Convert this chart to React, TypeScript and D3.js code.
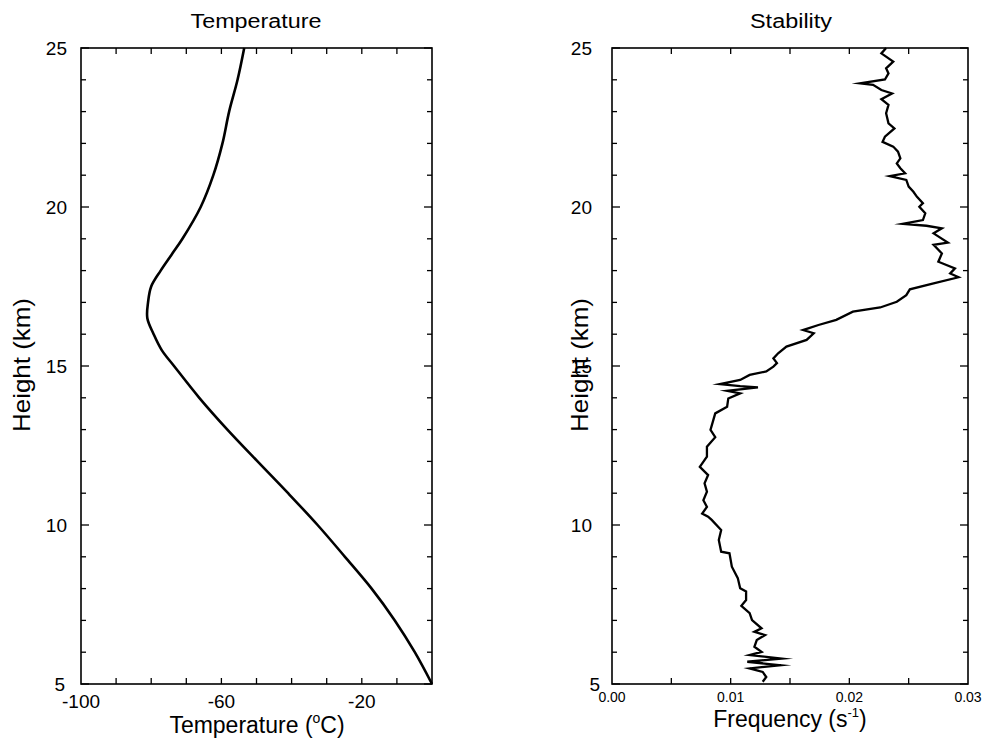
import React from 'react';
import * as d3 from 'd3';

// ---------- data ----------
const tempHeights = [5, 6, 7, 8, 9, 10, 11, 12, 13, 14, 15, 15.5, 16, 16.5, 17, 17.5, 18, 18.5, 19, 20, 21, 22, 23, 24, 25];
const tempValues = [0, -4.9, -10.6, -17.2, -24.8, -32.6, -41.0, -49.7, -58.3, -66.3, -73.5, -77.0, -79.3, -81.1, -80.9, -80.0, -77.3, -74.2, -71.1, -65.9, -62.3, -59.7, -57.8, -55.4, -53.5];

const stabHeights = [
  25.0, 24.83, 24.57, 24.36, 24.2, 24.01, 23.89, 23.84, 23.68, 23.57, 23.39, 23.21, 22.95, 22.63, 22.47, 22.21, 22.05, 21.9,
  21.74, 21.53, 21.37, 21.22, 21.06, 20.97, 20.85, 20.64, 20.48, 20.32, 20.12, 20.01, 19.8, 19.59, 19.47, 19.41, 19.33, 19.17,
  18.88, 18.81, 18.54, 18.28, 18.07, 17.91, 17.79, 17.6, 17.41, 17.23, 17.02, 16.84, 16.71, 16.45, 16.29, 16.13, 16.03, 15.82,
  15.61, 15.4, 15.24, 15.09, 14.98, 14.83, 14.72, 14.56, 14.43, 14.37, 14.33, 14.22, 14.14, 13.98, 13.72, 13.51, 13.25, 12.99,
  12.76, 12.46, 12.15, 11.83, 11.57, 11.31, 11.05, 10.78, 10.57, 10.36, 10.26, 10.16, 9.84, 9.53, 9.16, 9.11, 8.69, 8.33,
  8.01, 7.91, 7.64, 7.46, 7.23, 7.01, 6.75, 6.64, 6.54, 6.38, 6.17, 6.01, 5.91, 5.8, 5.7, 5.59, 5.49, 5.38, 5.22, 5.07,
];
const stabFreqs = [
  0.0231, 0.0227, 0.0237, 0.0231, 0.0233, 0.023, 0.0209, 0.022, 0.0227, 0.0236, 0.0227, 0.0233, 0.0231, 0.0233, 0.0238, 0.023, 0.0228, 0.0237,
  0.0241, 0.0243, 0.024, 0.0243, 0.0247, 0.0234, 0.0248, 0.025, 0.0254, 0.0257, 0.0262, 0.0259, 0.0264, 0.0262, 0.0245, 0.0265, 0.0278, 0.0271,
  0.0283, 0.0271, 0.0278, 0.0275, 0.0289, 0.0285, 0.0292, 0.0271, 0.0251, 0.0248, 0.024, 0.0226, 0.0203, 0.0189, 0.0174, 0.0161, 0.017, 0.0164,
  0.0147, 0.014, 0.0136, 0.0139, 0.0136, 0.013, 0.0116, 0.0108, 0.0091, 0.0108, 0.0123, 0.0097, 0.0108, 0.0098, 0.0097, 0.0087, 0.0085, 0.0083,
  0.0087, 0.008, 0.008, 0.0074, 0.0081, 0.0078, 0.008, 0.0077, 0.008, 0.0076, 0.0081, 0.0084, 0.0092, 0.009, 0.0092, 0.0099, 0.0101, 0.0106,
  0.0108, 0.0113, 0.0113, 0.0109, 0.0116, 0.0118, 0.0126, 0.012, 0.0129, 0.0122, 0.012, 0.0126, 0.0116, 0.0143, 0.0114, 0.0142, 0.0116, 0.0127, 0.013, 0.0127,
];

const heightLabels = [5, 10, 15, 20, 25];
const heightMinorTicks = [6, 7, 8, 9, 11, 12, 13, 14, 16, 17, 18, 19, 21, 22, 23, 24];
const tempLabels = [-100, -60, -20];
const tempTicks = [-90, -80, -70, -60, -50, -40, -30, -20, -10];
const freqLabels = [0, 0.01, 0.02, 0.03];
const freqTicks = [0.005, 0.01, 0.015, 0.02, 0.025];

const FONT = "'Liberation Sans', Arial, Helvetica, sans-serif";

function Frame({ x0, x1, y0, y1, xScale, yScale, xTicks }: any) {
  const els: React.ReactNode[] = [];
  heightLabels.concat(heightMinorTicks).forEach((h, i) => {
    const len = heightLabels.includes(h) ? 8 : 5;
    const y = yScale(h);
    els.push(<line key={'yl' + i} x1={x0} x2={x0 + len} y1={y} y2={y} stroke="#000" strokeWidth={1.3} />);
    els.push(<line key={'yr' + i} x1={x1} x2={x1 - len} y1={y} y2={y} stroke="#000" strokeWidth={1.3} />);
  });
  xTicks.forEach((t: number, i: number) => {
    const x = xScale(t);
    els.push(<line key={'xb' + i} x1={x} x2={x} y1={y1} y2={y1 - 6} stroke="#000" strokeWidth={1.3} />);
    els.push(<line key={'xt' + i} x1={x} x2={x} y1={y0} y2={y0 + 6} stroke="#000" strokeWidth={1.3} />);
  });
  return (
    <g>
      <rect x={x0} y={y0} width={x1 - x0} height={y1 - y0} fill="none" stroke="#000" strokeWidth={1.6} />
      {els}
    </g>
  );
}

export default function App() {
  const W = 986, H = 741;
  const yTop = 48, yBot = 684;

  // Left panel
  const lx0 = 81, lx1 = 432;
  const tx = d3.scaleLinear().domain([-100, 0]).range([lx0, lx1]);
  const ty = d3.scaleLinear().domain([5, 25]).range([yBot, yTop]);
  const tempLine = d3.line<number>()
    .x((_, i) => tx(tempValues[i]))
    .y((h) => ty(h))
    .curve(d3.curveCatmullRom.alpha(0.5));
  const tempPath = tempLine(tempHeights);

  // Right panel
  const rx0 = 612, rx1 = 968;
  const fx = d3.scaleLinear().domain([0, 0.03]).range([rx0, rx1]);
  const fy = d3.scaleLinear().domain([5, 25]).range([yBot, yTop]);
  const stabLine = d3.line<number>()
    .x((_, i) => fx(stabFreqs[i]))
    .y((h) => fy(h))
    .curve(d3.curveLinear);
  const stabPath = stabLine(stabHeights);

  return (
    <svg width={W} height={H} style={{ position: 'absolute', left: 0, top: 0, background: '#fff' }} fontFamily={FONT}>
      <rect x={0} y={0} width={W} height={H} fill="#fff" />

      {/* ---------- Left: Temperature ---------- */}
      <text x={256} y={28} fontSize={20} textAnchor="middle" textLength={131} lengthAdjust="spacingAndGlyphs">Temperature</text>
      <Frame x0={lx0} x1={lx1} y0={yTop} y1={yBot} xScale={tx} yScale={ty} xTicks={tempTicks} />
      <path d={tempPath || ''} fill="none" stroke="#000" strokeWidth={2.6} strokeLinejoin="round" />
      {heightLabels.map((h) => (
        <text key={'lh' + h} x={h === 5 ? 65 : 67} y={ty(h)} dy="0.36em" fontSize={19} textAnchor="end">{h}</text>
      ))}
      {tempLabels.map((t) => (
        <text key={'lt' + t} x={tx(t)} y={708} fontSize={19} textAnchor="middle">{t}</text>
      ))}
      <text x={257} y={733} fontSize={23} textAnchor="middle">
        Temperature (<tspan fontSize={14} dy={-10}>o</tspan><tspan dy={10}>C)</tspan>
      </text>
      <text transform={`translate(30, 365) rotate(-90)`} fontSize={24} textAnchor="middle" textLength={134} lengthAdjust="spacingAndGlyphs">Height (km)</text>

      {/* ---------- Right: Stability ---------- */}
      <text x={791} y={28} fontSize={20} textAnchor="middle" textLength={82} lengthAdjust="spacingAndGlyphs">Stability</text>
      <Frame x0={rx0} x1={rx1} y0={yTop} y1={yBot} xScale={fx} yScale={fy} xTicks={freqTicks} />
      <path d={stabPath || ''} fill="none" stroke="#000" strokeWidth={2.3} strokeLinejoin="miter" strokeMiterlimit={10} />
      {heightLabels.map((h) => (
        <text key={'rh' + h} x={h === 5 ? 600 : 592} y={fy(h)} dy="0.36em" fontSize={19} textAnchor="end">{h}</text>
      ))}
      {freqLabels.map((f) => (
        <text key={'rf' + f} x={fx(f)} y={702} fontSize={14} textAnchor="middle">{f.toFixed(2)}</text>
      ))}
      <text x={790} y={727} fontSize={23} textAnchor="middle">
        Frequency (s<tspan fontSize={13} dy={-10}>-1</tspan><tspan dy={10}>)</tspan>
      </text>
      <text transform={`translate(588, 365) rotate(-90)`} fontSize={24} textAnchor="middle" textLength={134} lengthAdjust="spacingAndGlyphs">Height (km)</text>
    </svg>
  );
}
